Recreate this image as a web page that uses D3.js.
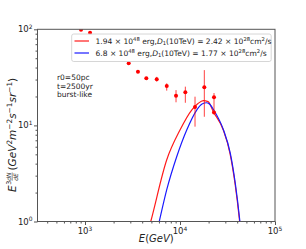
<!DOCTYPE html>
<html>
<head>
<meta charset="utf-8">
<script src="https://cdn.jsdelivr.net/npm/d3@7"></script>
<style>
  body { margin: 0; background: #fff; }
  svg { font-family: "DejaVu Sans", sans-serif; }
</style>
</head>
<body>
<svg id="chart"></svg>
<script>
// measured points (E in GeV, flux)
var dataE  = [908, 1130, 2884, 3610, 4420, 5690, 7250, 9080, 11380, 14390, 18030, 22800, 22800];
var dataF  = [99, 92.2, 44.3, 36.2, 30.9, 30.2, 25.7, 20.4, 22.1, 15.5, 24.9, 19.6, 13.6];
var errLo  = [null, null, null, null, null, 28.6, 23.0, 17.4, 17.2, 9.7, 12.3, 13.8, null];
var errHi  = [null, null, null, null, null, 32.0, 27.4, 23.3, 25.3, 19.9, 37.6, 21.7, null];

// model curves
var redE  = [4610, 4920, 7240, 10000, 13270, 15480, 17580, 19720, 22400, 28560, 33580, 37920, 42070, 43350];
var redF  = [0.79, 1.0, 4.37, 8.96, 14.45, 16.9, 18.07, 17.7, 13.9, 8.96, 5.13, 2.5, 1.08, 0.80];
var blueE = [5730, 6050, 7240, 9230, 11770, 15000, 17060, 19100, 20700, 22800, 28700, 33860, 38200, 42340, 43650];
var blueF = [0.79, 1.0, 2.13, 4.72, 8.96, 14.45, 16.7, 17.2, 16.5, 14.3, 8.96, 5.13, 2.5, 1.08, 0.80];

var xMajor = [1e3, 1e4, 1e5];
var yMajor = [1, 10, 100];

var W = 306, H = 249;
var pL = 37.5, pR = 275, pT = 29.3, pB = 221.5;

var svg = d3.select('#chart').attr('width', W).attr('height', H);

var x = d3.scaleLog().domain([Math.pow(10, 2.5), 1e5]).range([pL, pR]);
var y = d3.scaleLog().domain([1, 100]).range([pB, pT]);

svg.append('clipPath').attr('id', 'clip')
  .append('rect').attr('x', pL).attr('y', pT)
  .attr('width', pR - pL).attr('height', pB - pT);

var plot = svg.append('g').attr('clip-path', 'url(#clip)');

// curves
var line = d3.line().x(function(d){ return x(d[0]); }).y(function(d){ return y(d[1]); })
  .curve(d3.curveMonotoneX);
plot.append('path').datum(d3.zip(redE, redF)).attr('d', line)
  .attr('fill', 'none').attr('stroke', '#ff1a1a').attr('stroke-width', 1.2);
plot.append('path').datum(d3.zip(blueE, blueF)).attr('d', line)
  .attr('fill', 'none').attr('stroke', '#1a1aff').attr('stroke-width', 1.2);

// error bars
var pts = dataE.map(function(e, i){ return {e: e, f: dataF[i], lo: errLo[i], hi: errHi[i]}; });
plot.selectAll('line.err').data(pts.filter(function(d){ return d.lo != null; }))
  .enter().append('line')
  .attr('x1', function(d){ return x(d.e); }).attr('x2', function(d){ return x(d.e); })
  .attr('y1', function(d){ return y(d.lo); }).attr('y2', function(d){ return y(d.hi); })
  .attr('stroke', 'red').attr('stroke-opacity', 0.75).attr('stroke-width', 1);
plot.selectAll('circle').data(pts).enter().append('circle')
  .attr('cx', function(d){ return x(d.e); }).attr('cy', function(d){ return y(d.f); })
  .attr('r', 2).attr('fill', 'red');

// axes
var axisColor = '#555';
function styleAxis(g) {
  g.select('.domain').remove();
  g.selectAll('line').attr('stroke', axisColor);
}
var gx = svg.append('g').attr('transform', 'translate(0,' + pB + ')');
gx.call(d3.axisBottom(x).tickValues(xMajor).tickSize(3.5).tickFormat('')).call(styleAxis);
var gxm = svg.append('g').attr('transform', 'translate(0,' + pB + ')');
gxm.call(d3.axisBottom(x).tickValues(x.ticks().filter(function(v){ return xMajor.indexOf(v) < 0; }))
  .tickSize(2).tickFormat('')).call(styleAxis);

var gy = svg.append('g').attr('transform', 'translate(' + pL + ',0)');
gy.call(d3.axisLeft(y).tickValues(yMajor).tickSize(3.5).tickFormat('')).call(styleAxis);
var gym = svg.append('g').attr('transform', 'translate(' + pL + ',0)');
gym.call(d3.axisLeft(y).tickValues(y.ticks().filter(function(v){ return yMajor.indexOf(v) < 0; }))
  .tickSize(2).tickFormat('')).call(styleAxis);

svg.append('rect').attr('x', pL).attr('y', pT)
  .attr('width', pR - pL).attr('height', pB - pT)
  .attr('fill', 'none').attr('stroke', axisColor).attr('stroke-width', 1);

// rich text helper
function rich(t, parts, fs) {
  var off = 0;
  parts.forEach(function(p) {
    var ts = t.append('tspan').text(p.t);
    var target = p.sup ? -fs * 0.4 : (p.sub ? fs * 0.2 : 0);
    if (target !== off) { ts.attr('dy', target - off); off = target; }
    if (p.sup || p.sub) ts.attr('font-size', fs * 0.7);
    if (p.it) ts.attr('font-style', 'italic');
  });
  return t;
}

// tick labels
xMajor.forEach(function(v) {
  var t = svg.append('text').attr('x', x(v)).attr('y', pB + 12.5)
    .attr('text-anchor', 'middle').attr('font-size', 8.5).attr('fill', '#222');
  rich(t, [{t: '10'}, {t: String(Math.round(Math.log10(v))), sup: true}], 8.5);
});
yMajor.forEach(function(v) {
  var t = svg.append('text').attr('x', pL - 5).attr('y', y(v) + 3)
    .attr('text-anchor', 'end').attr('font-size', 8.5).attr('fill', '#222');
  rich(t, [{t: '10'}, {t: String(Math.round(Math.log10(v))), sup: true}], 8.5);
});

// x label
rich(svg.append('text').attr('x', (pL + pR) / 2).attr('y', 242)
  .attr('text-anchor', 'middle').attr('font-size', 10).attr('fill', '#222'),
  [{t: 'E', it: true}, {t: '('}, {t: 'GeV', it: true}, {t: ')'}], 10);

// y label
var yl = svg.append('g').attr('transform', 'translate(16,192) rotate(-90)');
var fsY = 10.5;
yl.append('text').attr('x', 0).attr('y', 0).attr('font-size', fsY).attr('font-style', 'italic').attr('fill', '#222').text('E');
yl.append('text').attr('x', 7.2).attr('y', -5).attr('font-size', 6.5).attr('fill', '#222').text('3');
yl.append('text').attr('x', 11.3).attr('y', -5.2).attr('font-size', 6).attr('font-style', 'italic').attr('fill', '#222').text('dN');
yl.append('line').attr('x1', 11.3).attr('x2', 19.5).attr('y1', -3.8).attr('y2', -3.8).attr('stroke', '#222').attr('stroke-width', 0.5);
yl.append('text').attr('x', 11.3).attr('y', 2.2).attr('font-size', 6).attr('font-style', 'italic').attr('fill', '#222').text('dE');
rich(yl.append('text').attr('x', 21.5).attr('y', 0).attr('font-size', fsY).attr('fill', '#222'),
  [{t: '(', it: false}, {t: 'GeV', it: true}, {t: '2', sup: true}, {t: 'm', it: true}, {t: '\u22122', sup: true},
   {t: 's', it: true}, {t: '\u22121', sup: true}, {t: 'sr', it: true}, {t: '\u22121', sup: true}, {t: ')'}], fsY);

// annotation
var ann = ['r0=50pc', 't=2500yr', 'burst-like'];
svg.selectAll('text.ann').data(ann).enter().append('text')
  .attr('x', 57).attr('y', function(d, i){ return 80 + i * 8.6; })
  .attr('font-size', 7.5).attr('fill', '#222').text(function(d){ return d; });

// legend
svg.append('rect').attr('x', 71.7).attr('y', 34).attr('width', 199.5).attr('height', 27.5)
  .attr('rx', 2).attr('fill', '#fff').attr('fill-opacity', 0.85).attr('stroke', '#ccc').attr('stroke-width', 0.8);
var legend = [
  {c: '#ff1a1a', parts: [{t: '1.94 \u00d7 10'}, {t: '48', sup: true}, {t: ' erg,'}, {t: 'D', it: true}, {t: '1', sub: true},
    {t: '(10TeV) = 2.42 \u00d7 10'}, {t: '28', sup: true}, {t: 'cm'}, {t: '2', sup: true}, {t: '/s'}]},
  {c: '#1a1aff', parts: [{t: '6.8 \u00d7 10'}, {t: '48', sup: true}, {t: ' erg,'}, {t: 'D', it: true}, {t: '1', sub: true},
    {t: '(10TeV) = 1.77 \u00d7 10'}, {t: '28', sup: true}, {t: 'cm'}, {t: '2', sup: true}, {t: '/s'}]}
];
legend.forEach(function(l, i) {
  var ly = 41 + i * 12;
  svg.append('line').attr('x1', 74.5).attr('x2', 89).attr('y1', ly).attr('y2', ly)
    .attr('stroke', l.c).attr('stroke-width', 1.2);
  rich(svg.append('text').attr('x', 95.5).attr('y', ly + 2.7).attr('font-size', 7.55).attr('fill', '#222'),
    l.parts, 7.55);
});
</script>
</body>
</html>
